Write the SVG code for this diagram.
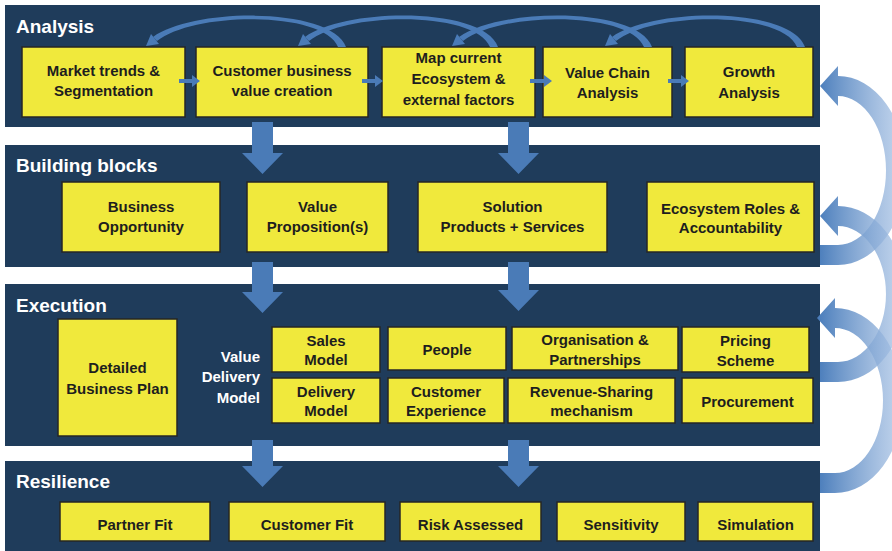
<svg xmlns="http://www.w3.org/2000/svg" width="892" height="551" viewBox="0 0 892 551">
<defs>
<style>
.panel{fill:#1F3C5B}
.box{fill:#F0E93C;stroke:#262626;stroke-width:1.5}
.t{font-family:"Liberation Sans",Arial,sans-serif;font-weight:bold;font-size:15px;fill:#1E1E1E;text-anchor:middle}
.w{font-family:"Liberation Sans",Arial,sans-serif;font-weight:bold;font-size:15px;fill:#FFFFFF;text-anchor:end}
.title{font-family:"Liberation Sans",Arial,sans-serif;font-weight:bold;font-size:19px;fill:#FFFFFF}
.blue{fill:#4A7BB7}
.curve{fill:url(#cg)}
</style>
<linearGradient id="cg" gradientUnits="userSpaceOnUse" x1="818" y1="0" x2="900" y2="0">
<stop offset="0" stop-color="#4A7DBB" stop-opacity="1"/>
<stop offset="1" stop-color="#A6C1E4" stop-opacity="0.7"/>
</linearGradient>
<g id="toparc">
<path d="M346,47 C332,7 195,7 153,37 L157,41 C195,11 324,11 338,47 Z"/>
<path d="M146,46 L159,44 L151,34 Z"/>
</g>
</defs>

<!-- panels -->
<g id="panel-analysis">
<rect class="panel" x="5" y="5" width="815" height="122"/>
<text class="title" x="16" y="33">Analysis</text>
</g>
<g id="panel-building">
<rect class="panel" x="5" y="145" width="815" height="122"/>
<text class="title" x="16" y="172">Building blocks</text>
</g>
<g id="panel-execution">
<rect class="panel" x="5" y="284" width="815" height="162"/>
<text class="title" x="16" y="312">Execution</text>
</g>
<g id="panel-resilience">
<rect class="panel" x="5" y="461" width="815" height="90"/>
<text class="title" x="16" y="488">Resilience</text>
</g>

<!-- Analysis nodes -->
<g id="market-trends">
<rect class="box" x="22" y="47" width="163" height="70"/>
<text class="t" x="103.5" y="76">Market trends &amp;</text>
<text class="t" x="103.5" y="96">Segmentation</text>
</g>
<g id="customer-business">
<rect class="box" x="196" y="47" width="172" height="70"/>
<text class="t" x="282" y="76">Customer business</text>
<text class="t" x="282" y="96">value creation</text>
</g>
<g id="map-ecosystem">
<rect class="box" x="382" y="47" width="153" height="70"/>
<text class="t" x="458.5" y="63">Map current</text>
<text class="t" x="458.5" y="84">Ecosystem &amp;</text>
<text class="t" x="458.5" y="105">external factors</text>
</g>
<g id="value-chain">
<rect class="box" x="543" y="47" width="129" height="70"/>
<text class="t" x="607.5" y="78">Value Chain</text>
<text class="t" x="607.5" y="98">Analysis</text>
</g>
<g id="growth">
<rect class="box" x="685" y="47" width="128" height="70"/>
<text class="t" x="749" y="77">Growth</text>
<text class="t" x="749" y="98">Analysis</text>
</g>

<!-- Building blocks nodes -->
<g id="business-opportunity">
<rect class="box" x="62" y="182" width="158" height="70"/>
<text class="t" x="141" y="212">Business</text>
<text class="t" x="141" y="232">Opportunity</text>
</g>
<g id="value-proposition">
<rect class="box" x="247" y="182" width="141" height="70"/>
<text class="t" x="317.5" y="212">Value</text>
<text class="t" x="317.5" y="232">Proposition(s)</text>
</g>
<g id="solution">
<rect class="box" x="418" y="182" width="189" height="70"/>
<text class="t" x="512.5" y="212">Solution</text>
<text class="t" x="512.5" y="232">Products + Services</text>
</g>
<g id="ecosystem-roles">
<rect class="box" x="647" y="182" width="167" height="70"/>
<text class="t" x="730.5" y="214">Ecosystem Roles &amp;</text>
<text class="t" x="730.5" y="233">Accountability</text>
</g>

<!-- Execution nodes -->
<g id="detailed-plan">
<rect class="box" x="58" y="319" width="119" height="117"/>
<text class="t" x="117.5" y="373">Detailed</text>
<text class="t" x="117.5" y="394">Business Plan</text>
</g>
<g id="value-delivery-label">
<text class="w" x="260" y="362">Value</text>
<text class="w" x="260" y="382">Delivery</text>
<text class="w" x="260" y="403">Model</text>
</g>
<g id="sales-model">
<rect class="box" x="272" y="327" width="108" height="45"/>
<text class="t" x="326" y="346">Sales</text>
<text class="t" x="326" y="365">Model</text>
</g>
<g id="delivery-model">
<rect class="box" x="272" y="378" width="108" height="45"/>
<text class="t" x="326" y="397">Delivery</text>
<text class="t" x="326" y="416">Model</text>
</g>
<g id="people">
<rect class="box" x="388" y="327" width="118" height="43"/>
<text class="t" x="447" y="355">People</text>
</g>
<g id="customer-experience">
<rect class="box" x="388" y="378" width="116" height="45"/>
<text class="t" x="446" y="397">Customer</text>
<text class="t" x="446" y="416">Experience</text>
</g>
<g id="organisation">
<rect class="box" x="512" y="327" width="166" height="43"/>
<text class="t" x="595" y="345">Organisation &amp;</text>
<text class="t" x="595" y="365">Partnerships</text>
</g>
<g id="revenue-sharing">
<rect class="box" x="508" y="378" width="167" height="45"/>
<text class="t" x="591.5" y="397">Revenue-Sharing</text>
<text class="t" x="591.5" y="416">mechanism</text>
</g>
<g id="pricing">
<rect class="box" x="682" y="327" width="127" height="45"/>
<text class="t" x="745.5" y="346">Pricing</text>
<text class="t" x="745.5" y="366">Scheme</text>
</g>
<g id="procurement">
<rect class="box" x="682" y="378" width="131" height="45"/>
<text class="t" x="747.5" y="407">Procurement</text>
</g>

<!-- Resilience nodes -->
<g id="partner-fit">
<rect class="box" x="60" y="502" width="150" height="39"/>
<text class="t" x="135" y="530">Partner Fit</text>
</g>
<g id="customer-fit">
<rect class="box" x="229" y="502" width="156" height="39"/>
<text class="t" x="307" y="530">Customer Fit</text>
</g>
<g id="risk-assessed">
<rect class="box" x="400" y="502" width="141" height="39"/>
<text class="t" x="470.5" y="530">Risk Assessed</text>
</g>
<g id="sensitivity">
<rect class="box" x="557" y="502" width="128" height="39"/>
<text class="t" x="621" y="530">Sensitivity</text>
</g>
<g id="simulation">
<rect class="box" x="698" y="502" width="115" height="39"/>
<text class="t" x="755.5" y="530">Simulation</text>
</g>

<!-- connectors -->
<g id="connectors">
<!-- horizontal arrows in Analysis -->
<polygon class="blue" points="179,79 192,79 192,75 200,81 192,87 192,83 179,83"/>
<polygon class="blue" points="362,79 375,79 375,75 383,81 375,87 375,83 362,83"/>
<polygon class="blue" points="530,79 544,79 544,75 552,81 544,87 544,83 530,83"/>
<polygon class="blue" points="668,79 681,79 681,75 689,81 681,87 681,83 668,83"/>
<!-- top feedback arcs -->
<use href="#toparc" class="blue"/>
<use href="#toparc" class="blue" x="152"/>
<use href="#toparc" class="blue" x="306"/>
<use href="#toparc" class="blue" x="459"/>
<!-- down block arrows -->
<polygon class="blue" points="252,122 273,122 273,153 283,153 262.5,174 242,153 252,153"/>
<polygon class="blue" points="508,122 529,122 529,153 539,153 518.5,174 498,153 508,153"/>
<polygon class="blue" points="252,262 273,262 273,292 283,292 262.5,313 242,292 252,292"/>
<polygon class="blue" points="508,262 529,262 529,290 539,290 518.5,311 498,290 508,290"/>
<polygon class="blue" points="252,440 273,440 273,466 283,466 262.5,487 242,466 252,466"/>
<polygon class="blue" points="508,440 529,440 529,466 539,466 518.5,487 498,466 508,466"/>
<!-- big curved feedback arrows on the right -->
<path class="curve" d="M820,245 L838,245 A48 74.5 0 0 0 838,96 L838,106 L820,86 L838,66 L838,76 A68 94.5 0 0 1 838,265 L820,265 Z"/>
<path class="curve" d="M820,362 L838,362 A48 68 0 0 0 838,226 L838,236 L820,216 L838,196 L838,206 A68 88 0 0 1 838,382 L820,382 Z"/>
<path class="curve" d="M820,473 L835,473 A48 72.5 0 0 0 835,328 L835,338 L817,318 L835,298 L835,308 A68 92.5 0 0 1 835,493 L820,493 Z"/>
</g>
</svg>
